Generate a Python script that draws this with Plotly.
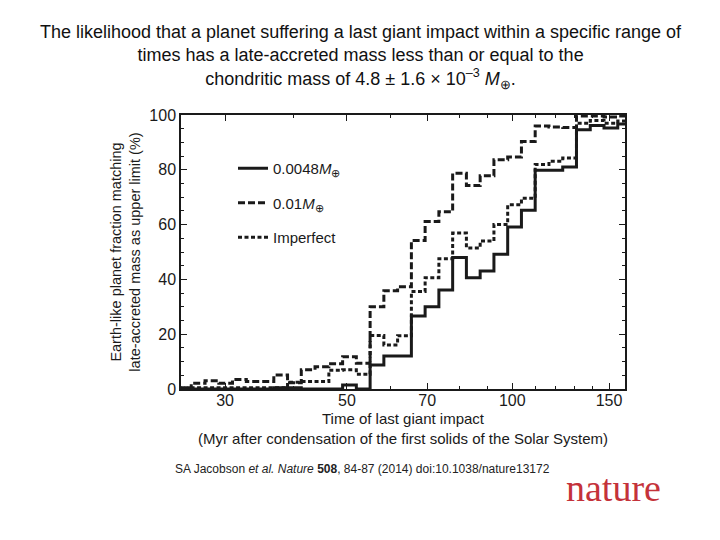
import plotly.graph_objects as go

# Bin edges (Myr, log-spaced bins)
bin_edges = [24.59, 26.04, 27.59, 29.23, 30.96, 32.80, 34.74, 36.81, 38.99, 41.30,
             43.75, 46.36, 49.11, 52.02, 55.11, 58.38, 61.84, 65.52, 69.40, 73.52,
             77.89, 82.51, 87.41, 92.60, 98.10, 103.92, 110.08, 116.62, 123.54, 130.88,
             138.66, 146.89, 155.6, 164.9]

# Percent values per bin
mass_0048 = [0, 0, 0, 0, 0, 0, 0, 0.5, 0.5, 0, 0, 0, 1.5, 0,
             8.8, 12.0, 12.0, 26.6, 30.0, 36.1, 48.0, 40.6, 43.1, 49.2, 59.1, 65.2,
             79.8, 79.8, 81.0, 94.6, 96.2, 95.3, 96.7]
mass_001 = [0.5, 2.1, 3.0, 2.1, 3.5, 2.7, 2.7, 5.1, 2.3, 7.0, 8.1, 9.2, 11.8, 9.4,
            30.0, 35.9, 37.3, 54.2, 61.1, 64.7, 78.7, 74.3, 77.8, 83.7, 84.7, 90.3,
            96.0, 95.6, 95.4, 99.6, 99.6, 99.3, 99.6]
imperfect = [0.5, 0.5, 0.5, 0.5, 0.5, 0.5, 0.5, 0.5, 2.5, 2.7, 2.7, 6.8, 7.0, 5.4,
             19.5, 16.1, 19.4, 35.6, 40.6, 47.5, 56.9, 51.5, 54.0, 60.0, 67.2, 69.6,
             81.9, 83.1, 84.3, 97.0, 98.0, 97.0, 97.8]

x_ticks = [30, 50, 70, 100, 150]
x_minor = [40, 60, 80, 90, 110, 120, 130, 140]

series = [
    ("0.0048<i>M</i><sub>⊕</sub>", mass_0048, "solid"),
    ("0.01<i>M</i><sub>⊕</sub>", mass_001, "7px,3px"),
    ("Imperfect", imperfect, "4px,2.5px"),
]

INK = "#1a1a1a"
FONT = "Liberation Sans, Arial, sans-serif"

# the page shows the figure offset by the 8px body margin; plot area on screen: x 181-625, y 115-389
fig = go.Figure()
for i, (name, vals, dash) in enumerate(series):
    fig.add_trace(go.Scatter(
        x=bin_edges, y=vals + [vals[-1]], mode="lines", name=name,
        line=dict(color=INK, width=3, dash=dash, shape="hv"),
        legendgroup=f"g{i}",
    ))

def px(sx):
    return (sx - 181) / 444

def py(sy):
    return (389 - sy) / 274

fig.update_layout(
    width=720, height=540,
    paper_bgcolor="white", plot_bgcolor="white",
    margin=dict(l=173, r=103, t=107, b=159, autoexpand=False),
    font=dict(family=FONT, color=INK, size=14),
    showlegend=True,
    legend=dict(x=px(233), y=py(152), xanchor="left", yanchor="top",
                bgcolor="rgba(0,0,0,0)", font=dict(size=15, color=INK),
                tracegroupgap=12, itemwidth=30),
    xaxis=dict(
        type="log", range=[1.397, 2.2052],
        tickvals=x_ticks, ticktext=[str(v) for v in x_ticks],
        ticks="inside", ticklen=6, tickwidth=1.2, tickcolor=INK,
        minor=dict(tickvals=x_minor, ticks="inside", ticklen=3, tickcolor=INK),
        showline=True, linecolor=INK, linewidth=1.5, mirror="ticks",
        showgrid=False, zeroline=False,
        tickfont=dict(size=16), ticklabelstandoff=-4,
        title=dict(text="Time of last giant impact<br>(Myr after condensation of the first solids of the Solar System)",
                   font=dict(size=15), standoff=6),
    ),
    yaxis=dict(
        range=[0, 100], tickvals=[0, 20, 40, 60, 80, 100],
        ticks="inside", ticklen=6, tickwidth=1.2, tickcolor=INK,
        minor=dict(dtick=5, ticks="inside", ticklen=3, tickcolor=INK),
        showline=True, linecolor=INK, linewidth=1.5, mirror="ticks",
        showgrid=False, zeroline=False,
        tickfont=dict(size=16),
        title=dict(text="Earth-like planet fraction matching<br>late-accreted mass as upper limit (%)",
                   font=dict(size=14.5), standoff=5),
    ),
)

fig.add_annotation(
    xref="paper", yref="paper", x=px(361), y=py(20), xanchor="center", yanchor="top",
    text="The likelihood that a planet suffering a last giant impact within a specific range of<br>"
         "times has a late-accreted mass less than or equal to the<br>"
         "chondritic mass of 4.8 ± 1.6 × 10<sup>–3</sup> <i>M</i><sub>⊕</sub>.",
    showarrow=False, font=dict(size=18, color="#111"), align="center",
)
fig.add_annotation(
    xref="paper", yref="paper", x=px(173), y=py(460),
    xanchor="left", yanchor="top", showarrow=False,
    text="SA Jacobson <i>et al.</i> <i>Nature</i> <b>508</b>, 84-87 (2014) doi:10.1038/nature13172",
    font=dict(size=12, color="#222"),
)
fig.add_annotation(
    xref="paper", yref="paper", x=px(663), y=py(488),
    xanchor="right", yanchor="middle", showarrow=False,
    text="nature", font=dict(size=38, color="#c4323a", family="Liberation Serif, serif"),
)

fig.write_html("out.html")
